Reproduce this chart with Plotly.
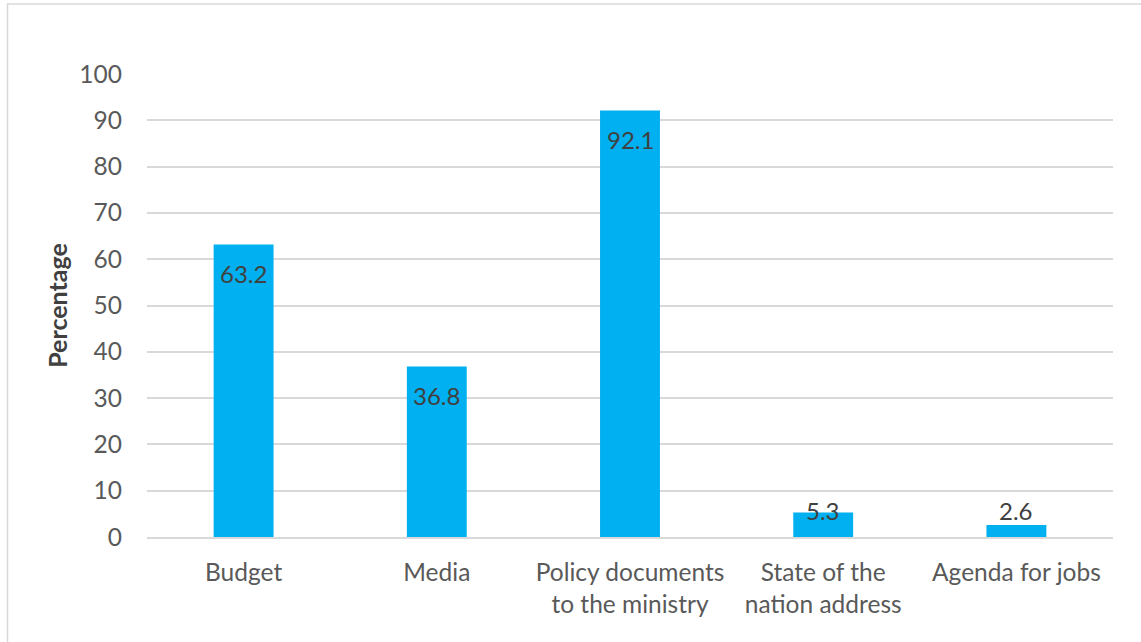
import plotly.graph_objects as go

categories = ["Budget", "Media", "Policy documents<br>to the ministry", "State of the<br>nation address", "Agenda for jobs"]
values = [63.2, 36.8, 92.1, 5.3, 2.6]
labels = ["63.2", "36.8", "92.1", "5.3", "2.6"]
y_ticks = [0, 10, 20, 30, 40, 50, 60, 70, 80, 90, 100]

FONT = "Lato, 'Open Sans', sans-serif"
L, R, T, B = 147, 28, 74, 105
W, H = 1141, 642
plot_h = H - T - B
px_per_unit = plot_h / 100.0

fig = go.Figure()
fig.add_trace(go.Bar(
    x=categories, y=values,
    marker=dict(color="#00B0F0", line=dict(width=0)),
    hoverinfo="x+y",
))

# Data labels, "inside end" style (clamped above the axis for short bars)
annotations = []
for c, v, t in zip(categories, values, labels):
    inside_center = v * px_per_unit - 29
    if inside_center >= 27:
        annotations.append(dict(x=c, y=v, yref="y", xref="x", text=t, showarrow=False,
                                yanchor="middle", yshift=-29,
                                font=dict(family=FONT, size=24, color="#404040")))
    else:
        annotations.append(dict(x=c, y=0, yref="y", xref="x", text=t, showarrow=False,
                                yanchor="middle", yshift=27,
                                font=dict(family=FONT, size=24, color="#404040")))

fig.update_layout(
    width=W, height=H,
    margin=dict(l=L, r=R, t=T, b=B),
    paper_bgcolor="white", plot_bgcolor="white",
    bargap=0.69, showlegend=False,
    font=dict(family=FONT, color="#595959"),
    xaxis=dict(
        showgrid=False, showline=True, linecolor="#D9D9D9", linewidth=1.5,
        tickfont=dict(family=FONT, size=24.5, color="#595959"),
        ticklabelstandoff=13,
    ),
    yaxis=dict(
        range=[0, 100], tickvals=y_ticks, showgrid=True, gridcolor="#D9D9D9",
        gridwidth=1.5, zeroline=False, showline=False,
        tickfont=dict(family=FONT, size=24.5, color="#595959"),
        ticklabelstandoff=24,
        title=dict(text="<b>Percentage</b>", font=dict(family=FONT, size=25, color="#404040"), standoff=4),
    ),
    annotations=annotations,
    shapes=[dict(type="rect", xref="paper", yref="paper",
                 x0=(7.5 - L) / (W - L - R), x1=(W + 20 - L) / (W - L - R),
                 y0=-(B + 20) / plot_h, y1=(plot_h + T - 4) / plot_h,
                 line=dict(color="#D9D9D9", width=1.5), fillcolor="rgba(0,0,0,0)", layer="below")],
)

fig.write_html("out.html", config={"displayModeBar": False},
               post_script="document.body.style.margin='0px';")
